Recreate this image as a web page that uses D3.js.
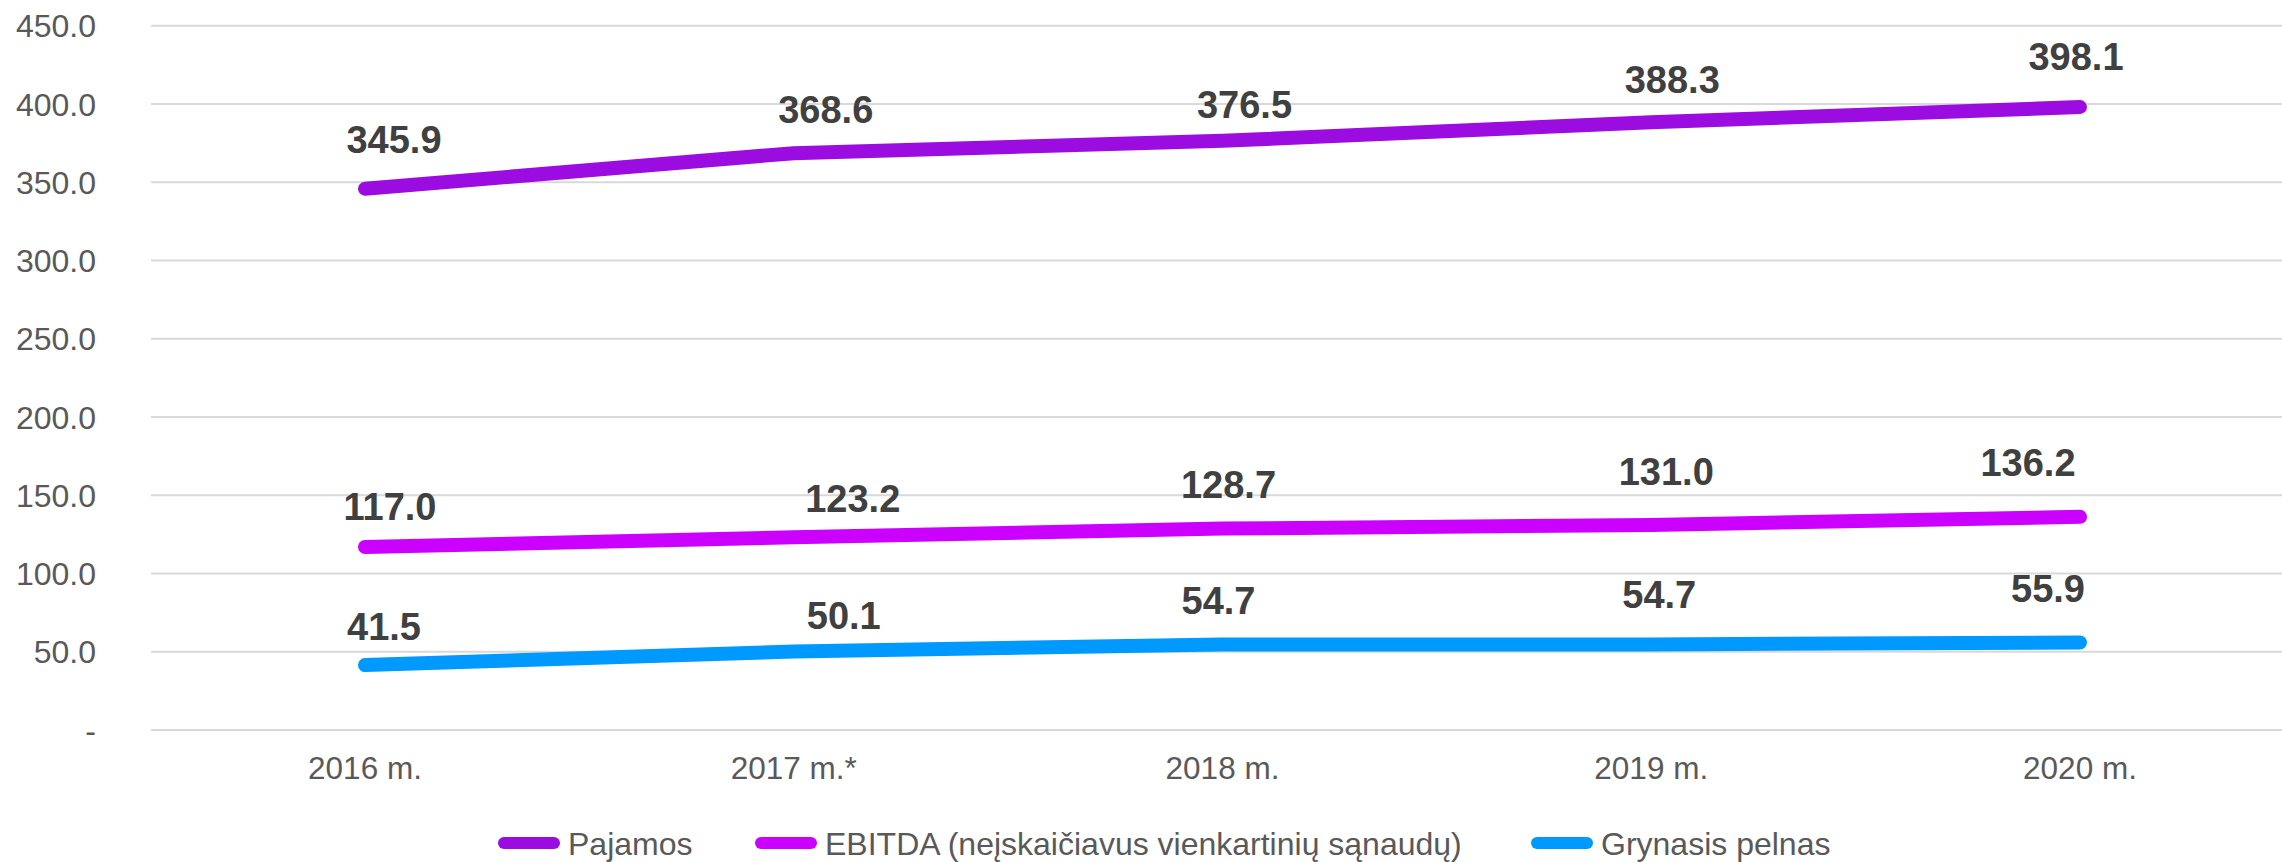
<!DOCTYPE html>
<html>
<head>
<meta charset="utf-8">
<script src="https://cdn.jsdelivr.net/npm/d3@7"></script>
<style>
html,body{margin:0;padding:0;background:#fff;}
svg{display:block;font-family:"Liberation Sans",Arial,sans-serif;}
</style>
</head>
<body>
<svg id="chart" width="2282" height="862"></svg>
<script>
// ---- data ----
const categories = ["2016 m.", "2017 m.*", "2018 m.", "2019 m.", "2020 m."];
const seriesNames = ["Pajamos", "EBITDA (neįskaičiavus vienkartinių sąnaudų)", "Grynasis pelnas"];
const pajamos = [345.9, 368.6, 376.5, 388.3, 398.1];
const ebitda = [117.0, 123.2, 128.7, 131.0, 136.2];
const grynasisPelnas = [41.5, 50.1, 54.7, 54.7, 55.9];
const yTicks = [0, 50, 100, 150, 200, 250, 300, 350, 400, 450];
const yTickLabels = ["-", "50.0", "100.0", "150.0", "200.0", "250.0", "300.0", "350.0", "400.0", "450.0"];

// ---- styling / layout ----
const colors = ["#9B0CE0", "#CC00FF", "#0099FF"];
const seriesValues = [pajamos, ebitda, grynasisPelnas];
// manual label nudges (as placed in the original chart)
const labelNudge = [
  [[29,-36],[32,-30],[22,-23],[21,-29],[-4,-37]],
  [[25,-27],[59,-25],[6,-31],[15,-40],[-52,-41]],
  [[19,-25],[50,-23],[-4,-30],[8,-36],[-32,-41]]
];

const svg = d3.select("#chart");
const x = d3.scalePoint().domain(categories).range([365, 2080]);
const y = d3.scaleLinear().domain([0, 450]).range([730, 25.8]);

// gridlines
svg.append("g").selectAll("line").data(yTicks).join("line")
  .attr("x1", 151).attr("x2", 2282)
  .attr("y1", d => y(d)).attr("y2", d => y(d))
  .attr("stroke", "#d9d9d9").attr("stroke-width", 2);

// y tick labels
svg.append("g").selectAll("text").data(yTicks).join("text")
  .attr("x", 96).attr("y", d => y(d)).attr("dy", "0.36em")
  .attr("text-anchor", "end").attr("fill", "#595959")
  .attr("font-size", 32)
  .text((d, i) => yTickLabels[i]);

// x tick labels
svg.append("g").selectAll("text").data(categories).join("text")
  .attr("x", d => x(d)).attr("y", 779)
  .attr("text-anchor", "middle").attr("fill", "#595959")
  .attr("font-size", 31.5)
  .text(d => d);

// lines
const line = d3.line().x((d, i) => x(categories[i])).y(d => y(d));
seriesValues.forEach((vals, s) => {
  svg.append("path").datum(vals)
    .attr("d", line)
    .attr("fill", "none")
    .attr("stroke", colors[s])
    .attr("stroke-width", 14)
    .attr("stroke-linecap", "round")
    .attr("stroke-linejoin", "round");
});

// data labels
seriesValues.forEach((vals, s) => {
  svg.append("g").selectAll("text").data(vals).join("text")
    .attr("x", (d, i) => x(categories[i]) + labelNudge[s][i][0])
    .attr("y", (d, i) => y(d) + labelNudge[s][i][1])
    .attr("text-anchor", "middle")
    .attr("fill", "#404040")
    .attr("font-weight", "bold")
    .attr("font-size", 38)
    .text(d => d.toFixed(1));
});

// legend
const legendX = [498, 755, 1531];
const lg = svg.append("g");
seriesNames.forEach((n, s) => {
  lg.append("line")
    .attr("x1", legendX[s] + 6).attr("x2", legendX[s] + 56)
    .attr("y1", 843).attr("y2", 843)
    .attr("stroke", colors[s]).attr("stroke-width", 12)
    .attr("stroke-linecap", "round");
  lg.append("text")
    .attr("x", legendX[s] + 70).attr("y", 843).attr("dy", "0.36em")
    .attr("fill", "#595959").attr("font-size", 32)
    .text(n);
});
</script>
</body>
</html>
